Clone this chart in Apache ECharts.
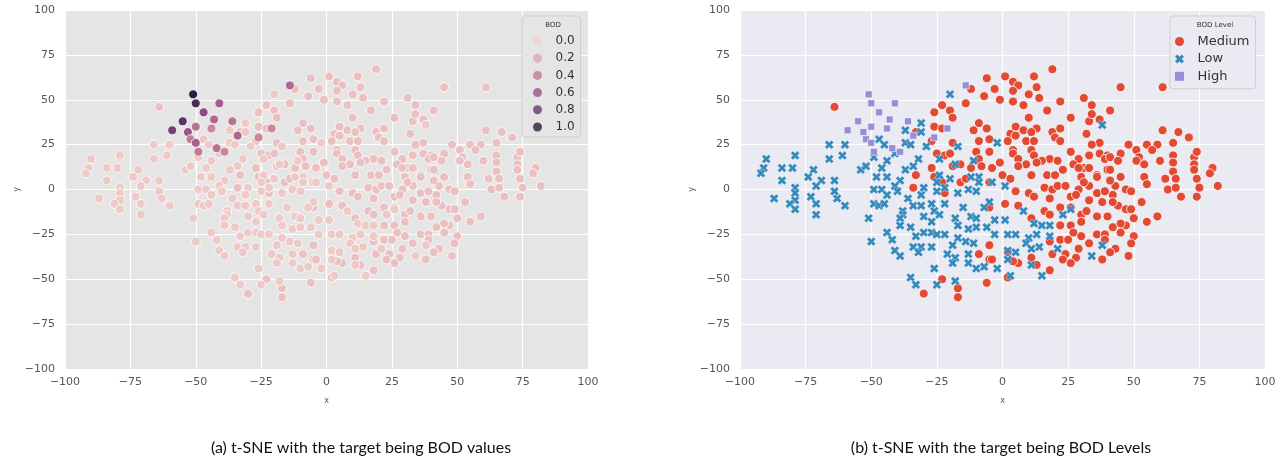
<!DOCTYPE html>
<html>
<head>
<meta charset="utf-8">
<script src="https://cdn.jsdelivr.net/npm/echarts@6/dist/echarts.min.js"></script>
<style>html,body{margin:0;padding:0;background:#fff}#chart{width:1286px;height:466px}</style>
</head>
<body>
<div id="chart"></div>
<script>
// t-SNE coordinates, grouped by BOD level
var mediumPts = [
  [-64,46],[-6,62],[-12,56],[-7,52],[-3,56],[-23,47],[-14,48],[-20,44],[-26,43],[-19,40],[-9,37],[-26,35],[-23,34],[-33,32],[-11,33],[-6,34],
  [-27,27],[-19,26],[-9,27],[-5,28],[-25,20],[-22,19],[-20,20],[-10,21],[-5,21],[-9,17],[-27,12],[-19,13],[-16,14],[-12,12],[-8,13],[-4,12],
  [-33,8],[-26,7],[-23,4],[-16,4],[-14,6],[-5,4],[-34,1],[-22,-2],[-5,-10],[-5,-31],[-9,-36],[-5,-39],[-23,-50],[-17,-55],[-17,-60],[-30,-58],[-6,-52],
  [19,67],[1,63],[12,63],[4,60],[6,58],[4,55],[13,57],[10,53],[14,51],[-1,50],[4,49],[8,47],[22,49],[17,44],[31,51],[34,47],[41,44],[26,40],
  [33,38],[37,39],[34,42],[10,40],[5,35],[8,33],[13,34],[19,32],[22,34],[3,31],[5,30],[11,32],[20,29],[32,31],[2,27],[9,27],[12,27],[22,27],
  [37,26],[4,22],[11,22],[26,21],[34,25],[4,20],[12,19],[18,17],[15,16],[21,16],[29,17],[33,19],[37,20],[40,19],[39,17],[-1,15],[6,17],[9,14],
  [13,15],[27,14],[31,12],[0,8],[6,13],[11,8],[17,8],[20,8],[23,11],[29,12],[30,7],[36,8],[40,11],[33,12],
  [45,57],[61,57],[61,33],[67,32],[71,29],[48,25],[55,25],[59,25],[65,26],[51,22],[57,22],[45,20],[41,18],[52,18],[44,16],[51,16],[54,14],
  [60,16],[65,19],[65,15],[73,18],[74,21],[73,14],[65,10],[73,11],[80,12],[79,9],[45,7],[54,7],[41,11],[62,6],[66,6],[74,6],
  [55,3],[63,0],[66,1],[75,1],[82,2],[68,-4],[74,-4],[47,0],[49,-1],[43,2],[42,-3],[53,-7],[44,-9],[47,-11],[49,-11],[50,-16],[59,-15],[55,-18],
  [47,-20],[45,-19],[42,-21],[45,-24],[50,-26],[49,-30],[43,-33],[41,-35],[48,-37],
  [3,6],[5,-1],[10,-2],[12,-4],[16,1],[19,0],[18,-5],[21,2],[24,2],[29,0],[26,-4],[28,-3],[33,2],[36,-2],[33,-6],[39,-1],[41,5],[36,7],[31,4],
  [38,-7],[42,-7],[1,-8],[6,-9],[16,-12],[18,-14],[11,-16],[26,-10],[30,-14],[32,-12],[36,-15],[40,-15],[22,-20],[26,-20],[30,-18],[27,-24],
  [30,-26],[36,-25],[39,-25],[22,-28],[25,-28],[33,-30],[39,-28],[29,-33],[18,-29],[19,-36],[24,-36],[23,-39],[28,-38],[38,-39],[26,-41],
  [11,-38],[13,-42],[6,-41],[4,-40],[2,-35],[-4,-39],[18,-45],[2,-49],[22,-10]
];
var lowPts = [
  [-66,25],[-60,25],[-66,17],[-61,19],[-90,17],[-79,19],[-91,12],[-84,12],[-80,12],[-92,9],[-72,11],[-74,7],[-54,11],[-52,13],[-49,18],
  [-84,5],[-69,5],[-64,5],[-79,1],[-71,2],[-79,-2],[-64,-1],[-87,-5],[-79,-6],[-73,-4],[-63,-5],[-81,-8],[-71,-8],[-79,-11],[-60,-9],[-71,-14],
  [-49,0],[-49,-8],[-51,-16],[-50,-29],
  [-20,53],[-31,37],[-37,33],[-31,32],[-47,28],[-45,25],[-37,26],[-35,25],[-29,24],[-17,24],[-41,20],[-32,17],[-24,17],[-44,16],[-34,13],
  [-37,11],[-46,12],[-18,14],[-11,16],[-24,8],[-9,7],[-48,7],[-44,7],
  [-39,5],[-25,4],[-20,6],[-12,7],[-9,4],[-4,4],[-46,0],[-44,-3],[-41,2],[-40,-1],[-30,1],[-31,-3],[-25,-1],[-22,1],[-17,-2],[-13,0],[-10,-1],
  [-5,-7],[-7,-10],[-47,-9],[-45,-8],[-36,-5],[-34,-9],[-31,-9],[-27,-8],[-26,-12],[-22,-8],[-15,-10],[-38,-12],[-38,-14],[-30,-15],[-24,-14],
  [-39,-16],[-12,-15],[-10,-16],[-18,-16],[-27,-18],[-39,-20],[-35,-21],[-17,-20],[-13,-22],[-10,-21],[-6,-21],[-33,-26],[-30,-24],[-27,-24],
  [-25,-25],[-22,-25],[-17,-27],[-44,-24],[-42,-28],[-14,-29],[-11,-30],[-19,-31],[-34,-32],[-31,-32],[-27,-32],[-32,-35],[-41,-34],[-39,-37],
  [-21,-36],[-18,-38],[-19,-41],[-13,-36],[-13,-41],[-10,-44],[-7,-43],[-26,-44],[-35,-49],[-33,-53],[-25,-53],[-18,-51],
  [38,36],[-2,26],
  [1,2],[8,-12],[-3,-17],[1,-17],[12,-19],[15,-20],[18,-20],[23,-14],[26,-11],[-3,-25],[2,-25],[5,-25],[10,-27],[13,-25],[18,-26],[9,-30],
  [11,-33],[14,-32],[21,-33],[2,-34],[5,-35],[38,-31],[34,-37],[2,-39],[11,-42],[-2,-44],[15,-48],[3,-48]
];
var highPts = [
  [-51,53],[-50,48],[-55,38],[-59,33],[-53,32],[-50,35],[-52,28],[-50,26],[-49,21],[-41,48],
  [-47,43],[-43,39],[-36,38],[-44,34],[-34,30],[-26,29],[-21,34],[-42,23],[-39,21],[-14,58]
];
// BOD value of each high point (left panel colour); low / medium points are pale
var highBod = [1.0,0.9,0.85,0.75,0.6,0.45,0.4,0.55,0.4,0.55,0.65,0.5,0.45,0.35,0.5,0.35,0.35,0.45,0.35,0.5];
var lowBod = 0.04;
var mediumBod = 0.08;

var bodTicks = ['0.0','0.2','0.4','0.6','0.8','1.0'];
var bodColors = ['#f1d3cc','#dfa7ae','#c27b97','#9a5589','#673a70','#2d1e3e'];
var levelNames = ['Medium','Low','High'];
var levelColors = ['#e24a33','#348abd','#988ed5'];

var chart = echarts.init(document.getElementById('chart'));

var xMark = 'path://M0,2.5L2.5,0L5,2.5L7.5,0L10,2.5L7.5,5L10,7.5L7.5,10L5,7.5L2.5,10L0,7.5L2.5,5Z';
var squareMark = 'path://M0,0L10,0L10,10L0,10Z';

function axis(gi, isX) {
  return {
    type: 'value', gridIndex: gi, min: -100, max: 100, interval: 25,
    name: isX ? 'x' : 'y', nameLocation: 'middle', nameGap: isX ? 28 : 44,
    nameTextStyle: { fontSize: 8, color: '#555', fontFamily: 'DejaVu Sans' },
    axisLine: { show: false }, axisTick: { show: false },
    axisLabel: {
      color: '#555', fontSize: 11, fontFamily: 'DejaVu Sans', margin: isX ? 8 : 10,
      formatter: function (v) { return String(v).replace('-', '\u2212'); }
    },
    splitLine: { lineStyle: { color: '#ffffff', width: 1.2 } }
  };
}

var allLeft = [];
mediumPts.forEach(function (p) { allLeft.push([p[0], p[1], mediumBod]); });
lowPts.forEach(function (p) { allLeft.push([p[0], p[1], lowBod]); });
var highLeft = highPts.map(function (p, i) { return [p[0], p[1], highBod[i]]; });

var series = [
  { type: 'scatter', xAxisIndex: 0, yAxisIndex: 0, data: allLeft, symbolSize: 9,
    itemStyle: { borderColor: '#fff', borderWidth: 0.8, opacity: 1 } },
  { type: 'scatter', xAxisIndex: 0, yAxisIndex: 0, data: highLeft, symbolSize: 9,
    itemStyle: { borderColor: '#fff', borderWidth: 0.8, opacity: 1 } },
  { name: 'Medium', type: 'scatter', xAxisIndex: 1, yAxisIndex: 1, data: mediumPts, symbol: 'circle', symbolSize: 9,
    itemStyle: { color: levelColors[0], borderColor: '#fff', borderWidth: 0.8, opacity: 1 } },
  { name: 'Low', type: 'scatter', xAxisIndex: 1, yAxisIndex: 1, data: lowPts, symbol: xMark, symbolSize: 9,
    itemStyle: { color: levelColors[1], borderColor: '#fff', borderWidth: 0.4, opacity: 1 } },
  { name: 'High', type: 'scatter', xAxisIndex: 1, yAxisIndex: 1, data: highPts, symbol: squareMark, symbolSize: 7,
    itemStyle: { color: levelColors[2], borderColor: '#fff', borderWidth: 0.6, opacity: 1 } }
];
// empty series only to feed the left legend
bodTicks.forEach(function (t, i) {
  series.push({ name: t, type: 'scatter', xAxisIndex: 0, yAxisIndex: 0, data: [], symbol: 'circle',
    itemStyle: { color: bodColors[i] } });
});

var option = {
  animation: false,
  backgroundColor: '#ffffff',
  grid: [
    { left: 65, width: 523, top: 10, height: 359, show: true, backgroundColor: '#e5e5e5', borderWidth: 0 },
    { left: 740, width: 525, top: 10, height: 359, show: true, backgroundColor: '#eaeaf2', borderWidth: 0 }
  ],
  xAxis: [axis(0, true), axis(1, true)],
  yAxis: [axis(0, false), axis(1, false)],
  visualMap: {
    show: false, type: 'continuous', seriesIndex: [0, 1], dimension: 2, min: 0, max: 1,
    inRange: { color: bodColors }
  },
  legend: [
    { data: bodTicks, orient: 'vertical', left: 522, top: 16, padding: [19, 6, 4, 11],
      itemWidth: 26, itemHeight: 9, itemGap: 5.2, icon: 'circle', selectedMode: false,
      itemStyle: { borderWidth: 0 },
      textStyle: { fontSize: 12, color: '#333', fontFamily: 'DejaVu Sans' },
      backgroundColor: '#e5e5e5', borderColor: '#cfcfcf', borderWidth: 1, borderRadius: 3 },
    { data: [
        { name: 'Medium', icon: 'circle' },
        { name: 'Low', icon: xMark },
        { name: 'High', icon: squareMark }
      ],
      orient: 'vertical', left: 1170, top: 16, padding: [19, 6, 6, 5],
      itemWidth: 26, itemHeight: 9, itemGap: 4.4, selectedMode: false,
      itemStyle: { borderWidth: 0 },
      textStyle: { fontSize: 13, color: '#333', fontFamily: 'DejaVu Sans' },
      backgroundColor: '#eaeaf2', borderColor: '#cfcfcf', borderWidth: 1, borderRadius: 3 }
  ],
  graphic: [
    { type: 'text', x: 553, y: 25, z: 100, style: { text: 'BOD', fontSize: 7, fill: '#333', fontFamily: 'DejaVu Sans', align: 'center', verticalAlign: 'middle' } },
    { type: 'text', x: 1215, y: 25, z: 100, style: { text: 'BOD Level', fontSize: 7, fill: '#333', fontFamily: 'DejaVu Sans', align: 'center', verticalAlign: 'middle' } },
    { type: 'text', x: 361, y: 448, style: { text: '(a) t-SNE with the target being BOD values', fontSize: 16, fill: '#111', fontFamily: 'Lato', align: 'center', verticalAlign: 'middle' } },
    { type: 'text', x: 1001, y: 448, style: { text: '(b) t-SNE with the target being BOD Levels', fontSize: 16, fill: '#111', fontFamily: 'Lato', align: 'center', verticalAlign: 'middle' } }
  ],
  series: series
};
chart.setOption(option);
</script>
</body>
</html>
